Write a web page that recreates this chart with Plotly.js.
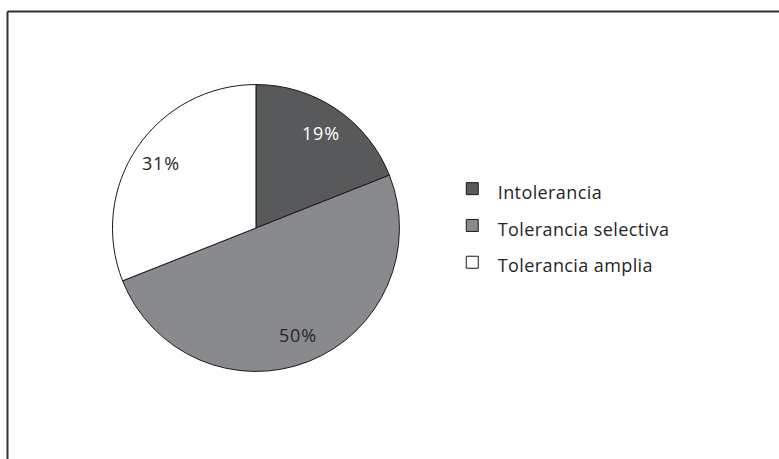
<!DOCTYPE html>
<html>
<head>
<meta charset="utf-8">
<script src="https://cdn.plot.ly/plotly-3.0.1.min.js"></script>
<style>
  html, body { margin: 0; padding: 0; background: #ffffff; }
  #chart { width: 779px; height: 459px; }
</style>
</head>
<body>
<div id="chart"></div>
<script>
const categories = ["Intolerancia", "Tolerancia selectiva", "Tolerancia amplia"];
const values = [19, 50, 31];
const sliceColors = ["#58595b", "#898a8e", "#ffffff"];
const labelColors = ["#ffffff", "#262626", "#262626"];

const fontFamily = "'Open Sans', 'Noto Sans', 'Liberation Sans', sans-serif";

const W = 779, H = 459;
const pieDomain = { x: [0.1444, 0.5128], y: [0.1906, 0.8159] };

// percentage labels placed at 0.8 of the radius, at the middle angle of each slice
const total = values.reduce((a, b) => a + b, 0);
const cx = (pieDomain.x[0] + pieDomain.x[1]) / 2 * W;
const cy = (pieDomain.y[0] + pieDomain.y[1]) / 2 * H;
const radius = Math.min((pieDomain.x[1] - pieDomain.x[0]) * W, (pieDomain.y[1] - pieDomain.y[0]) * H) / 2;
let cum = 0;
const annotations = values.map((v, i) => {
  const mid = (cum + v / 2) / total * 2 * Math.PI;
  cum += v;
  const r = 0.8 * radius;
  return {
    xref: "paper", yref: "paper",
    x: (cx + r * Math.sin(mid)) / W,
    y: (cy + r * Math.cos(mid)) / H,
    text: '<span style="letter-spacing:0.8px">' + Math.round(v / total * 100) + "%</span>",
    showarrow: false,
    xanchor: "center", yanchor: "middle",
    font: { family: fontFamily, size: 18, color: labelColors[i] }
  };
});

const trace = {
  type: "pie",
  labels: categories.map(c => '<span style="font-size:18px;letter-spacing:0.4px">' + c + '</span>'),
  values: values,
  sort: false,
  direction: "clockwise",
  rotation: 0,
  marker: { colors: sliceColors, line: { color: "#1a1a1a", width: 1 } },
  textinfo: "none",
  textposition: "none",
  hoverinfo: "percent",
  domain: pieDomain
};

const layout = {
  width: W,
  height: H,
  margin: { l: 0, r: 0, t: 0, b: 0 },
  paper_bgcolor: "#ffffff",
  plot_bgcolor: "#ffffff",
  showlegend: true,
  legend: {
    x: 0.5735, y: 0.64, xanchor: "left", yanchor: "top",
    font: { family: fontFamily, size: 26, color: "#262626" },
    itemwidth: 41,
    bgcolor: "rgba(0,0,0,0)",
    borderwidth: 0
  },
  annotations: annotations,
  shapes: [
    { type: "line", xref: "paper", yref: "paper", x0: 7.5 / W, x1: 1, y0: 1 - 11.5 / H, y1: 1 - 11.5 / H,
      line: { color: "#333333", width: 2 } },
    { type: "line", xref: "paper", yref: "paper", x0: 7.5 / W, x1: 7.5 / W, y0: 0, y1: 1 - 11.5 / H,
      line: { color: "#333333", width: 2 } }
  ]
};

Plotly.newPlot("chart", [trace], layout, { displayModeBar: false, staticPlot: true });
</script>
</body>
</html>
